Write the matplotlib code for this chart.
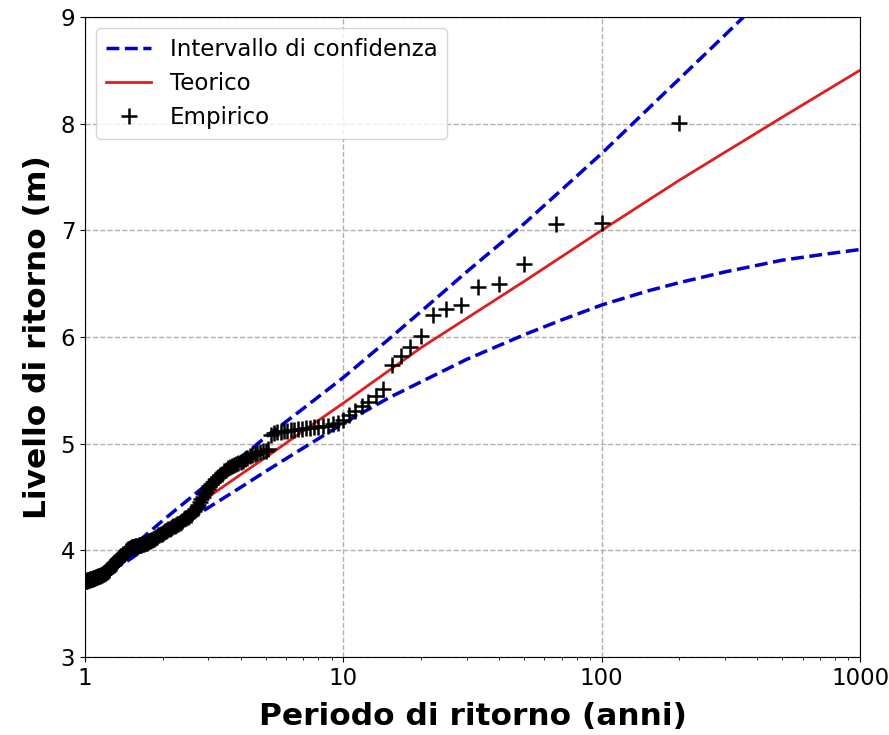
import numpy as np
import matplotlib
matplotlib.use("Agg")
import matplotlib.pyplot as plt

plt.rcParams['font.family'] = ['DejaVu Sans']

# Empirical return periods (anni) and levels (m)
emp_T = [200, 100, 66.67, 50, 40, 33.33, 28.57, 25, 22.22, 20,
         18.18, 16.67, 15.38, 14.29, 13.33, 12.5, 11.76, 11.11, 10.53, 10,
         9.524, 9.091, 8.696, 8.333, 8, 7.692, 7.407, 7.143, 6.897, 6.667,
         6.452, 6.25, 6.061, 5.882, 5.714, 5.556, 5.405, 5.263, 5.128, 5,
         4.878, 4.762, 4.651, 4.545, 4.444, 4.348, 4.255, 4.167, 4.082, 4,
         3.922, 3.846, 3.774, 3.704, 3.636, 3.571, 3.509, 3.448, 3.390, 3.333,
         3.279, 3.226, 3.175, 3.125, 3.077, 3.030, 2.985, 2.941, 2.899, 2.857,
         2.817, 2.778, 2.740, 2.703, 2.667, 2.632, 2.597, 2.564, 2.532, 2.5,
         2.469, 2.439, 2.410, 2.381, 2.353, 2.326, 2.299, 2.273, 2.247, 2.222,
         2.198, 2.174, 2.151, 2.128, 2.105, 2.083, 2.062, 2.041, 2.020, 2,
         1.980, 1.961, 1.942, 1.923, 1.905, 1.887, 1.869, 1.852, 1.835, 1.818,
         1.802, 1.786, 1.770, 1.754, 1.739, 1.724, 1.709, 1.695, 1.681, 1.667,
         1.653, 1.639, 1.626, 1.613, 1.6, 1.587, 1.575, 1.563, 1.550, 1.538,
         1.527, 1.515, 1.504, 1.493, 1.481, 1.471, 1.460, 1.449, 1.439, 1.429,
         1.418, 1.408, 1.399, 1.389, 1.379, 1.370, 1.361, 1.351, 1.342, 1.333,
         1.325, 1.316, 1.307, 1.299, 1.290, 1.282, 1.274, 1.266, 1.258, 1.25,
         1.242, 1.235, 1.227, 1.220, 1.212, 1.205, 1.198, 1.190, 1.183, 1.176,
         1.170, 1.163, 1.156, 1.149, 1.143, 1.136, 1.130, 1.124, 1.117, 1.111,
         1.105, 1.099, 1.093, 1.087, 1.081, 1.075, 1.070, 1.064, 1.058, 1.053,
         1.047, 1.042, 1.036, 1.031, 1.026, 1.020, 1.015, 1.010, 1.005]

emp_level = [8.01, 7.07, 7.06, 6.68, 6.50, 6.47, 6.30, 6.26, 6.21, 6.01,
             5.91, 5.82, 5.74, 5.51, 5.45, 5.39, 5.35, 5.31, 5.27, 5.22,
             5.19, 5.18, 5.17, 5.17, 5.16, 5.16, 5.15, 5.15, 5.14, 5.14,
             5.13, 5.13, 5.12, 5.12, 5.11, 5.11, 5.10, 5.08, 4.95, 4.93,
             4.93, 4.92, 4.91, 4.90, 4.89, 4.88, 4.87, 4.86, 4.84, 4.83,
             4.82, 4.81, 4.80, 4.79, 4.78, 4.77, 4.75, 4.74, 4.72, 4.71,
             4.69, 4.67, 4.66, 4.64, 4.62, 4.60, 4.58, 4.55, 4.53, 4.50,
             4.48, 4.45, 4.43, 4.41, 4.39, 4.37, 4.35, 4.33, 4.32, 4.31,
             4.30, 4.30, 4.29, 4.28, 4.27, 4.26, 4.25, 4.25, 4.24, 4.23,
             4.23, 4.22, 4.21, 4.20, 4.20, 4.19, 4.18, 4.18, 4.17, 4.16,
             4.15, 4.15, 4.14, 4.14, 4.13, 4.13, 4.12, 4.11, 4.11, 4.10,
             4.10, 4.09, 4.09, 4.08, 4.07, 4.07, 4.07, 4.06, 4.06, 4.06,
             4.05, 4.05, 4.05, 4.05, 4.04, 4.04, 4.04, 4.04, 4.03, 4.03,
             4.03, 4.03, 4.02, 4.02, 4.01, 4.01, 4.00, 3.99, 3.99, 3.98,
             3.97, 3.97, 3.96, 3.95, 3.95, 3.94, 3.93, 3.93, 3.92, 3.91,
             3.90, 3.90, 3.89, 3.88, 3.88, 3.87, 3.86, 3.85, 3.85, 3.84,
             3.83, 3.82, 3.81, 3.81, 3.80, 3.80, 3.79, 3.79, 3.78, 3.78,
             3.78, 3.77, 3.77, 3.77, 3.76, 3.76, 3.76, 3.76, 3.75, 3.75,
             3.75, 3.75, 3.74, 3.74, 3.74, 3.74, 3.73, 3.73, 3.73, 3.73,
             3.73, 3.72, 3.72, 3.72, 3.72, 3.72, 3.71, 3.71, 3.71]

# Theoretical curve
theo_T = [1.1, 1.3, 1.5, 2, 3, 4, 5, 7, 10, 20, 50, 100, 200, 500, 1000]
theo_level = [3.74, 3.87, 3.98, 4.20, 4.50, 4.71, 4.87, 5.12, 5.38, 5.90,
              6.52, 7.00, 7.47, 8.06, 8.50]

# Confidence interval bounds
ci_T = [1.1, 1.5, 2, 3, 4, 5, 7, 10, 15, 20, 30, 50, 70, 100, 150, 200,
        300, 500, 700, 1000]
ci_upper = [3.76, 4.02, 4.28, 4.63, 4.87, 5.06, 5.33, 5.62, 5.98, 6.24,
            6.61, 7.06, 7.38, 7.72, 8.13, 8.42, 8.83, 9.35, 9.70, 10.10]
ci_lower = [3.72, 3.92, 4.13, 4.40, 4.59, 4.74, 4.96, 5.19, 5.43, 5.58,
            5.79, 6.02, 6.16, 6.30, 6.43, 6.51, 6.61, 6.72, 6.77, 6.82]

x_ticks = [1, 10, 100, 1000]
x_ticklabels = ['1', '10', '100', '1000']
y_ticks = [3, 4, 5, 6, 7, 8, 9]

fig = plt.figure(figsize=(8.89, 7.35), dpi=100)
ax = fig.add_axes([0.0956, 0.106, 0.8718, 0.871])

blue = '#0000cc'
red = '#dd1f1f'

ax.plot(ci_T, ci_upper, linestyle='--', color=blue, lw=2.5,
        label='Intervallo di confidenza', zorder=2)
ax.plot(ci_T, ci_lower, linestyle='--', color=blue, lw=2.5, zorder=2)
ax.plot(theo_T, theo_level, '-', color=red, lw=2.0, label='Teorico', zorder=3)
ax.plot(emp_T, emp_level, linestyle='none', marker='+', color='black',
        markersize=11, markeredgewidth=1.8, label='Empirico', zorder=4)

ax.set_xscale('log')
ax.set_xlim(1, 1000)
ax.set_ylim(3, 9)
ax.set_xticks(x_ticks)
ax.set_xticklabels(x_ticklabels)
ax.set_yticks(y_ticks)
ax.tick_params(axis='both', which='major', labelsize=16.5)
ax.grid(True, which='major', linestyle='--', color='#b0b0b0', lw=1.0)

ax.set_xlabel('Periodo di ritorno (anni)', fontsize=22.5, fontweight='bold',
              labelpad=9)
ax.set_ylabel('Livello di ritorno (m)', fontsize=22.5, fontweight='bold',
              labelpad=6)

ax.legend(loc='upper left', fontsize=16.5)

fig.savefig('out.png', dpi=100)
